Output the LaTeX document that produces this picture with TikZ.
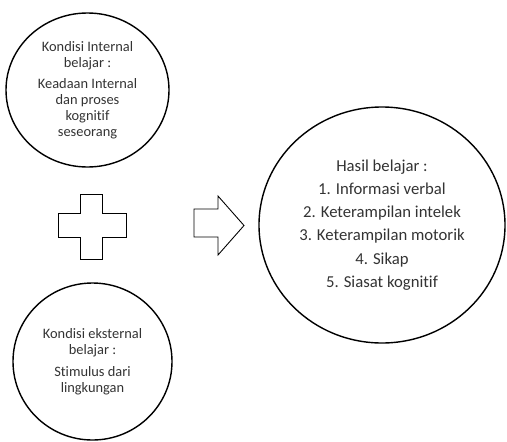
\documentclass[tikz,border=0pt]{standalone}
\usepackage{fontspec}
\setmainfont{Carlito}[Ligatures=NoCommon]
\usepackage{xcolor}
\usetikzlibrary{shapes.geometric}

\begin{document}
\begin{tikzpicture}[
    bubble/.style={shape=ellipse, draw, line width=0.8pt, inner sep=0pt, align=center,
      text=black!80, font=\fontsize{8.2}{9.1}\selectfont},
    symb/.style={draw, line width=0.5pt, line join=miter}]
    \useasboundingbox (0,0) rectangle (10.14,8.82);

    \node[bubble, minimum width=3.26cm, minimum height=3.08cm] (internal) at (1.75,7.02)
      {Kondisi Internal\\ belajar :\\[2.8pt] Keadaan Internal\\ dan proses\\ kognitif\\ seseorang};
    \node[bubble, minimum width=3.18cm, minimum height=3.14cm] (eksternal) at (1.85,1.59)
      {Kondisi eksternal\\ belajar :\\[3.2pt] Stimulus dari\\ lingkungan};
    \node[bubble, minimum width=4.92cm, minimum height=4.72cm, font=\fontsize{9.5}{10.5}\selectfont]
      (hasil) at (7.64,4.32)
      {Hasil belajar :\\[2.7pt] 1. Informasi verbal\\[2.7pt] 2. Keterampilan intelek\\[2.7pt]
       3. Keterampilan motorik\\[2.7pt] 4. Sikap\\[2.7pt] 5. Siasat kognitif};

    % plus sign
    \draw[symb] (1.60,4.94) -- (2.04,4.94) -- (2.04,4.56) -- (2.52,4.56) -- (2.52,4.08)
      -- (2.04,4.08) -- (2.04,3.64) -- (1.60,3.64) -- (1.60,4.08) -- (1.16,4.08)
      -- (1.16,4.56) -- (1.60,4.56) -- cycle;
    % block arrow
    \draw[symb] (3.88,4.64) -- (4.36,4.64) -- (4.36,4.90) -- (4.88,4.31) -- (4.36,3.72)
      -- (4.36,4.08) -- (3.88,4.08) -- cycle;
  \end{tikzpicture}
\end{document}
